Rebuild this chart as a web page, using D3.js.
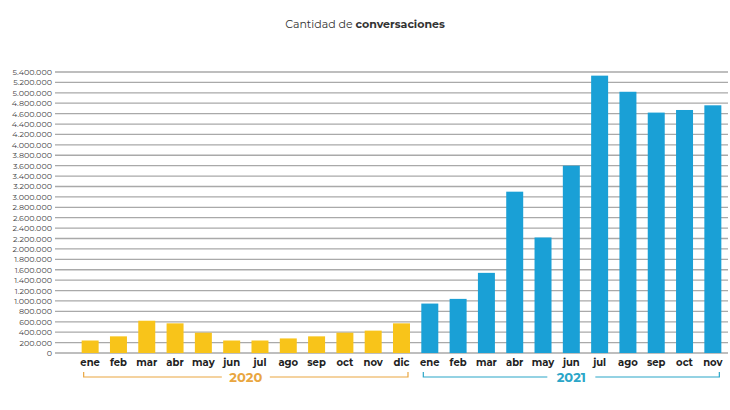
<!DOCTYPE html>
<html><head><meta charset="utf-8">
<script src="https://cdn.jsdelivr.net/npm/d3@7"></script>
<style>body{margin:0;background:#fff}text{font-family:"Montserrat","Lato","Open Sans",sans-serif}</style>
</head><body><svg id="c" width="730" height="410"></svg>
<script>
const months2020 = ["ene","feb","mar","abr","may","jun","jul","ago","sep","oct","nov","dic"];
const values2020 = [240000,320000,620000,570000,390000,240000,240000,280000,320000,390000,430000,570000];
const months2021 = ["ene","feb","mar","abr","may","jun","jul","ago","sep","oct","nov"];
const values2021 = [950000,1040000,1540000,3100000,2220000,3600000,5330000,5020000,4620000,4670000,4760000];
const years = ["2020","2021"];
const yTicks = d3.range(0, 5400001, 200000);

const data = months2020.map((m,i)=>({key:"2020-"+m,m,v:values2020[i],y:"2020"}))
  .concat(months2021.map((m,i)=>({key:"2021-"+m,m,v:values2021[i],y:"2021"})));
const svg = d3.select("#c");
const x = d3.scaleBand().domain(data.map(d=>d.key)).range([76,727]).paddingInner(0.4).paddingOuter(0.2);
const y = d3.scaleLinear().domain([0,5400000]).range([353,72]);
const fmt = v => d3.format(",")(v).replace(/,/g,".");

svg.append("text").attr("x",365).attr("y",28).attr("text-anchor","middle").attr("font-size",11).attr("fill","#333")
  .html('Cantidad de <tspan font-weight="bold">conversaciones</tspan>');

const g = svg.append("g");
g.selectAll("line.grid").data(yTicks).join("line").attr("x1",55).attr("x2",728)
  .attr("y1",d=>y(d)).attr("y2",d=>y(d)).attr("stroke","#a9a9a9").attr("stroke-width",1.3);
g.selectAll("text.yt").data(yTicks).join("text").attr("x",52).attr("y",d=>y(d)+3)
  .attr("text-anchor","end").attr("font-size",8).attr("fill","#444").text(fmt);

g.selectAll("rect").data(data).join("rect").attr("x",d=>x(d.key)).attr("width",x.bandwidth())
  .attr("y",d=>y(d.v)).attr("height",d=>y(0)-y(d.v)).attr("fill",d=>d.y==="2020"?"#F8C41A":"#1AA0D6");

g.selectAll("text.m").data(data).join("text").attr("x",d=>x(d.key)+x.bandwidth()/2).attr("y",366)
  .attr("text-anchor","middle").attr("font-size",10).attr("font-weight","bold").attr("fill","#222").text(d=>d.m);

const yc = {"2020":"#E9A640","2021":"#2BA6C8"};
years.forEach(yr=>{
  const ds = data.filter(d=>d.y===yr);
  const x0 = x(ds[0].key)+2, x1 = x(ds[ds.length-1].key)+x.bandwidth()-2, mid=(x0+x1)/2;
  const b = 377;
  svg.append("path").attr("d",`M${x0},${b-5}V${b}H${mid-24}M${mid+24},${b}H${x1}V${b-5}`)
    .attr("fill","none").attr("stroke",yc[yr]).attr("stroke-width",1.2);
  svg.append("text").attr("x",mid).attr("y",b+5).attr("text-anchor","middle").attr("font-size",13)
    .attr("font-weight","bold").attr("fill",yc[yr]).text(yr);
});
</script></body></html>
